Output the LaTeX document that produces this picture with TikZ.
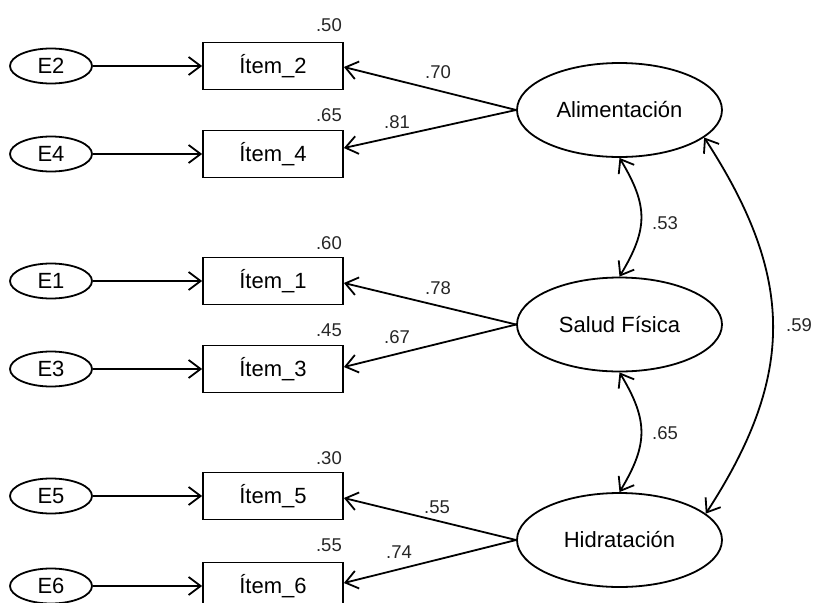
\documentclass[tikz,border=0pt]{standalone}
\usepackage{fontspec}
\setmainfont{Liberation Sans}
\usetikzlibrary{arrows.meta,shapes.geometric}
\begin{document}
\begin{tikzpicture}[x=1pt,y=1pt,
  every node/.style={inner sep=0pt},
  nodefont/.style={font=\fontsize{22}{24}\selectfont},
  errnode/.style={ellipse,draw,line width=1.8pt,minimum width=82pt,minimum height=35pt,nodefont},
  itembox/.style={rectangle,draw,line width=1.8pt,minimum width=140pt,minimum height=47pt,nodefont},
  latent/.style={ellipse,draw,line width=1.8pt,minimum width=205pt,minimum height=94pt,nodefont},
  lbl/.style={font=\fontsize{18.5}{20}\selectfont,text=black!85},
  barb/.tip={Straight Barb[length=12pt,width=18pt]},
  conn/.style={line width=1.8pt,-barb},
  corr/.style={line width=1.8pt,barb-barb}
]
\useasboundingbox (0,0) rectangle (815,-603);
\clip (0,0) rectangle (815,-603);

% error terms
\node[errnode] (e2) at (51,-66) {E2};
\node[errnode] (e4) at (51,-154) {E4};
\node[errnode] (e1) at (51,-281) {E1};
\node[errnode] (e3) at (51,-369) {E3};
\node[errnode] (e5) at (51,-496) {E5};
\node[errnode] (e6) at (51,-586) {E6};

% items
\node[itembox] (i2) at (273,-66) {Ítem\_2};
\node[itembox] (i4) at (273,-154) {Ítem\_4};
\node[itembox] (i1) at (273,-281) {Ítem\_1};
\node[itembox] (i3) at (273,-369) {Ítem\_3};
\node[itembox] (i5) at (273,-496) {Ítem\_5};
\node[itembox] (i6) at (273,-586) {Ítem\_6};

% latent factors
\node[latent] (alim) at (619.5,-110) {Alimentación};
\node[latent] (salud) at (619.5,-324.5) {Salud Física};
\node[latent] (hid) at (619.5,-540) {Hidratación};

% error arrows
\draw[conn] (e2) -- (i2);
\draw[conn] (e4) -- (i4);
\draw[conn] (e1) -- (i1);
\draw[conn] (e3) -- (i3);
\draw[conn] (e5) -- (i5);
\draw[conn] (e6) -- (i6);

% loadings
\draw[conn] (alim.west) -- ([yshift=-1pt]i2.east);
\draw[conn] (alim.west) -- ([yshift=6pt]i4.east);
\draw[conn] (salud.west) -- ([yshift=-2pt]i1.east);
\draw[conn] (salud.west) -- ([yshift=2pt]i3.east);
\draw[conn] (hid.west) -- ([yshift=-2pt]i5.east);
\draw[conn] (hid.west) -- ([yshift=3pt]i6.east);

% correlations
\draw[corr] (alim.south) .. controls +(-59:56) and +(59:56) .. (salud.north);
\draw[corr] (salud.south) .. controls +(-59:56) and +(59:56) .. (hid.north);
\draw[corr] (alim.-18) .. controls +(-57:166) and +(57:166) .. (hid.17);

% variance labels
\node[lbl,anchor=east] (r2) at (342,-25) {.50};
\node[lbl,anchor=east] (r4) at (342,-115) {.65};
\node[lbl,anchor=east] (r1) at (342,-243) {.60};
\node[lbl,anchor=east] (r3) at (342,-330) {.45};
\node[lbl,anchor=east] (r5) at (342,-458) {.30};
\node[lbl,anchor=east] (r6) at (342,-545) {.55};

% loading labels
\node[lbl] (l2) at (438,-72) {.70};
\node[lbl] (l4) at (397,-122) {.81};
\node[lbl] (l1) at (438,-288) {.78};
\node[lbl] (l3) at (397,-337) {.67};
\node[lbl] (l5) at (437,-507) {.55};
\node[lbl] (l6) at (399,-552) {.74};

% correlation labels
\node[lbl,anchor=west] (c1) at (652,-223) {.53};
\node[lbl,anchor=west] (c2) at (652,-433) {.65};
\node[lbl,anchor=west] (c3) at (786,-325) {.59};
\end{tikzpicture}
\end{document}
